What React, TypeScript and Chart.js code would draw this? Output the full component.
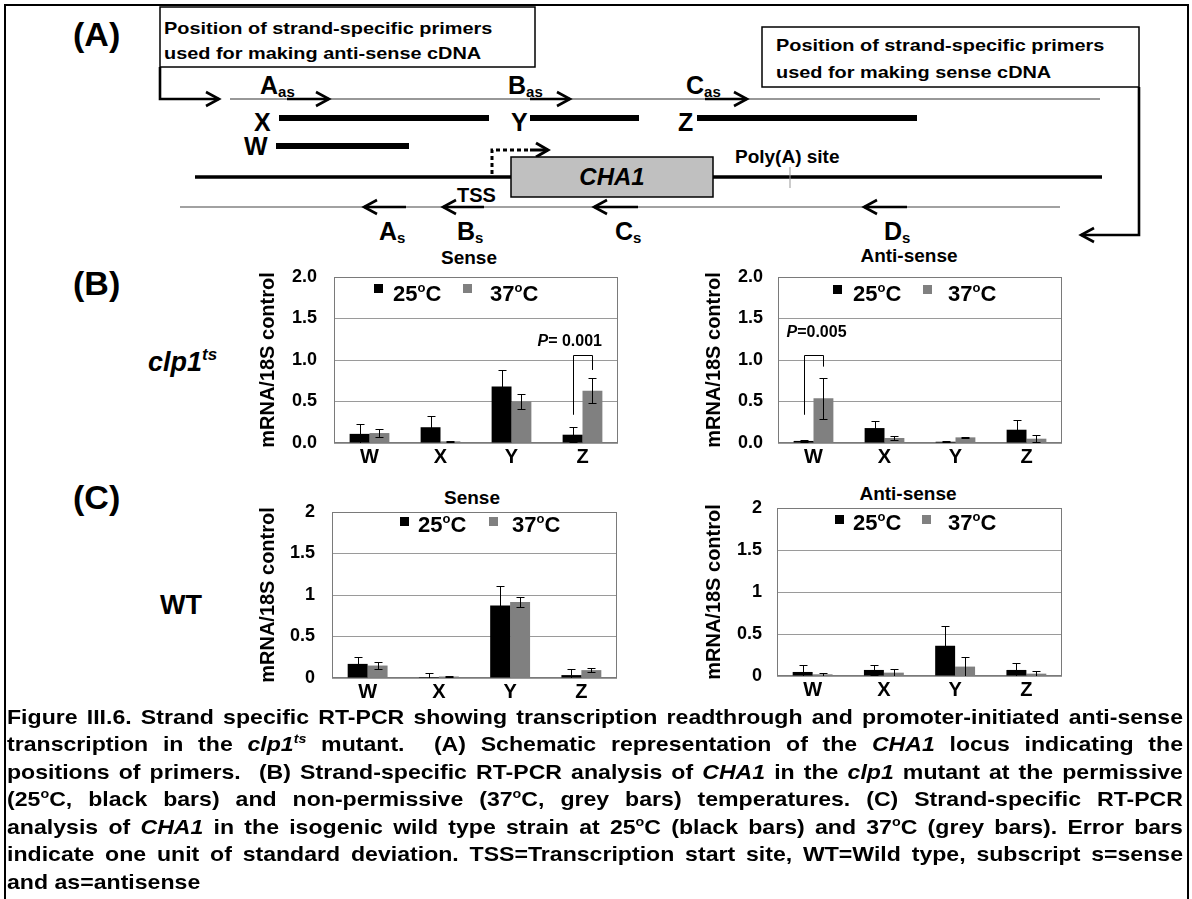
import React, { useEffect, useRef } from 'react';
import { Chart, registerables } from 'chart.js';
Chart.register(...registerables);

const FONT = '"Liberation Sans", Arial, Helvetica, sans-serif';

// ---------- data ----------
const categories = ['W', 'X', 'Y', 'Z'];
const yTicksB = ['0.0', '0.5', '1.0', '1.5', '2.0'];
const yTicksC = ['0', '0.5', '1', '1.5', '2'];

// (B) clp1ts, sense
const clpSense25 = [0.11, 0.19, 0.68, 0.1];
const clpSense25Sd = [0.12, 0.14, 0.2, 0.09];
const clpSense37 = [0.12, 0.02, 0.5, 0.63];
const clpSense37Sd = [0.05, 0.01, 0.095, 0.15];
// (B) clp1ts, anti-sense
const clpAnti25 = [0.025, 0.18, 0.015, 0.16];
const clpAnti25Sd = [0.01, 0.08, 0.005, 0.12];
const clpAnti37 = [0.54, 0.06, 0.068, 0.052];
const clpAnti37Sd = [0.245, 0.028, 0.008, 0.04];
// (C) WT, sense
const wtSense25 = [0.17, 0.012, 0.875, 0.035];
const wtSense25Sd = [0.08, 0.05, 0.23, 0.075];
const wtSense37 = [0.15, 0.018, 0.915, 0.095];
const wtSense37Sd = [0.04, 0.006, 0.055, 0.025];
// (C) WT, anti-sense
const wtAnti25 = [0.048, 0.072, 0.36, 0.072];
const wtAnti25Sd = [0.08, 0.056, 0.24, 0.08];
const wtAnti37 = [0.02, 0.04, 0.112, 0.028];
const wtAnti37Sd = [0.02, 0.04, 0.12, 0.03];

// significance brackets (value units)
const bracketSense = { cat: 3, leftLow: 0.34, top: 1.06, rightLow: 0.88, text: '= 0.001', labelY: 1.22, dx: -36 };
const bracketAnti = { cat: 0, leftLow: 0.34, top: 1.06, rightLow: 0.92, text: '=0.005', labelY: 1.33, dx: -18 };

// ---------- plugins ----------
const framePlugin = {
  id: 'frame',
  beforeDatasetsDraw(chart: any) {
    const { ctx, chartArea: a } = chart;
    ctx.save();
    ctx.strokeStyle = '#7a7a7a';
    ctx.lineWidth = 1;
    ctx.strokeRect(Math.round(a.left) + 0.5, Math.round(a.top) + 0.5, Math.round(a.right - a.left) - 1, Math.round(a.bottom - a.top) - 1);
    ctx.restore();
  },
};

const errorBarPlugin = {
  id: 'errbars',
  afterDatasetsDraw(chart: any) {
    const { ctx, chartArea: a } = chart;
    const ys = chart.scales.y;
    ctx.save();
    ctx.beginPath();
    ctx.rect(a.left, a.top - 2, a.right - a.left, a.bottom - a.top + 2);
    ctx.clip();
    ctx.strokeStyle = '#000';
    ctx.lineWidth = 1;
    chart.data.datasets.forEach((ds: any, di: number) => {
      const meta = chart.getDatasetMeta(di);
      meta.data.forEach((bar: any, i: number) => {
        const v = ds.data[i];
        const s = ds.sd[i];
        const x = Math.round(bar.x) + 0.5;
        const yt = Math.round(ys.getPixelForValue(v + s)) + 0.5;
        const yb = Math.round(ys.getPixelForValue(v - s)) + 0.5;
        ctx.beginPath();
        ctx.moveTo(x, yt);
        ctx.lineTo(x, yb);
        ctx.moveTo(x - 4, yt);
        ctx.lineTo(x + 4, yt);
        ctx.moveTo(x - 4, yb);
        ctx.lineTo(x + 4, yb);
        ctx.stroke();
      });
    });
    ctx.restore();
  },
};

function makeBracket(b: any) {
  return {
    id: 'bracket',
    afterDatasetsDraw(chart: any) {
      if (!b) return;
      const { ctx } = chart;
      const ys = chart.scales.y;
      const x0 = Math.round(chart.getDatasetMeta(0).data[b.cat].x) + 0.5;
      const x1 = Math.round(chart.getDatasetMeta(1).data[b.cat].x) + 0.5;
      const yT = Math.round(ys.getPixelForValue(b.top)) + 0.5;
      ctx.save();
      ctx.strokeStyle = '#000';
      ctx.lineWidth = 1;
      ctx.beginPath();
      ctx.moveTo(x0, ys.getPixelForValue(b.leftLow));
      ctx.lineTo(x0, yT);
      ctx.lineTo(x1, yT);
      ctx.lineTo(x1, ys.getPixelForValue(b.rightLow));
      ctx.stroke();
      const ty = ys.getPixelForValue(b.labelY);
      ctx.fillStyle = '#000';
      ctx.textBaseline = 'middle';
      ctx.font = `italic bold 16px ${FONT}`;
      ctx.fillText('P', x0 + b.dx, ty);
      const w = ctx.measureText('P').width;
      ctx.font = `bold 16px ${FONT}`;
      ctx.fillText(b.text, x0 + b.dx + w, ty);
      ctx.restore();
    },
  };
}

// ---------- chart panel ----------
type PanelCfg = {
  plotL: number; plotT: number; plotR: number; plotB: number;
  s25: number[]; s25sd: number[]; s37: number[]; s37sd: number[];
  ticks: string[]; titleX: number; tickPad: number; bracket?: any;
};

const tickSize = 18;

function BarPanel({ cfg }: { cfg: PanelCfg }) {
  const ref = useRef<HTMLCanvasElement>(null);
  const yAxisW = 104, xAxisH = 34, padRight = 12;
  // Chart.js reserves half a tick label + tick padding above the top tick
  const padTop = Math.ceil((tickSize * 1.2) / 2 + cfg.tickPad) + 1;
  const cl = cfg.plotL - yAxisW;
  const ct = cfg.plotT - padTop;
  const cw = cfg.plotR + padRight - cl;
  const ch = cfg.plotB + xAxisH - ct;
  const titleSize = 20;
  const titlePad = cfg.titleX - cl - (titleSize * 1.2) / 2;
  useEffect(() => {
    const chart = new Chart(ref.current as HTMLCanvasElement, {
      type: 'bar',
      data: {
        labels: categories,
        datasets: [
          { label: '25°C', data: cfg.s25, sd: cfg.s25sd, backgroundColor: '#000000', borderWidth: 0, categoryPercentage: 0.56, barPercentage: 1 } as any,
          { label: '37°C', data: cfg.s37, sd: cfg.s37sd, backgroundColor: '#808080', borderWidth: 0, categoryPercentage: 0.56, barPercentage: 1 } as any,
        ],
      },
      options: {
        responsive: false,
        animation: false,
        devicePixelRatio: 1,
        layout: { padding: { top: padTop, right: padRight, left: 0, bottom: 0 } },
        plugins: { legend: { display: false }, tooltip: { enabled: false }, title: { display: false } },
        scales: {
          x: {
            grid: { display: false, drawTicks: false },
            border: { display: false },
            ticks: { color: '#000', font: { family: FONT, size: 20, weight: 'bold' }, padding: 2, autoSkip: false, maxRotation: 0 },
            afterFit: (s: any) => { s.height = xAxisH; },
          },
          y: {
            min: 0,
            max: 2,
            grid: { color: '#9a9a9a', lineWidth: 1, drawTicks: false },
            border: { display: false },
            ticks: {
              stepSize: 0.5,
              color: '#000',
              font: { family: FONT, size: tickSize, weight: 'bold' },
              padding: cfg.tickPad,
              callback: (_v: any, i: number) => cfg.ticks[i],
            },
            title: {
              display: true,
              text: 'mRNA/18S control',
              color: '#000',
              font: { family: FONT, size: titleSize, weight: 'bold' },
              padding: { top: titlePad, bottom: 0 },
            },
            afterFit: (s: any) => { s.width = yAxisW; },
          },
        },
      } as any,
      plugins: [framePlugin, errorBarPlugin, makeBracket(cfg.bracket)],
    });
    return () => chart.destroy();
  }, []);
  return (
    <canvas
      ref={ref}
      width={cw}
      height={ch}
      style={{ position: 'absolute', left: cl, top: ct, width: cw, height: ch }}
    />
  );
}

// ---------- text helpers ----------
type TP = { x: number; y: number; size: number; children: any; italic?: boolean; center?: boolean; sx?: number; weight?: number };
const T = ({ x, y, size, children, italic, center, sx = 1, weight = 700 }: TP) => (
  <div
    style={{
      position: 'absolute',
      left: x,
      top: y - size * 0.49,
      fontSize: size,
      lineHeight: `${size}px`,
      fontWeight: weight,
      fontStyle: italic ? 'italic' : 'normal',
      whiteSpace: 'nowrap',
      transform: `${center ? 'translateX(-50%) ' : ''}scaleX(${sx})`,
      transformOrigin: center ? 'center center' : 'left center',
      color: '#000',
    }}
  >
    {children}
  </div>
);

const Sub = ({ children, size, dy }: { children: any; size: number; dy: number }) => (
  <span style={{ fontSize: size, position: 'relative', top: dy, lineHeight: 0 }}>{children}</span>
);

const Deg = ({ size, dy }: { size: number; dy: number }) => (
  <span style={{ fontSize: size, position: 'relative', top: dy, lineHeight: 0 }}>o</span>
);

const Sq = ({ x, y, color }: { x: number; y: number; color: string }) => (
  <div style={{ position: 'absolute', left: x, top: y, width: 9, height: 9, background: color }} />
);

function Legend({ sq1, t1, sq2, t2, y, ty }: { sq1: number; t1: number; sq2: number; t2: number; y: number; ty: number }) {
  return (
    <>
      <Sq x={sq1} y={y} color="#000" />
      <T x={t1} y={ty} size={22}>25<Deg size={13} dy={-9} />C</T>
      <Sq x={sq2} y={y} color="#808080" />
      <T x={t2} y={ty} size={22}>37<Deg size={13} dy={-9} />C</T>
    </>
  );
}

// ---------- schematic ----------
const chev = (x: number, y: number, dir: number, len = 13, half = 7) =>
  `M${x - dir * len},${y - half} L${x},${y} L${x - dir * len},${y + half}`;

function Schematic() {
  const thick = 2.6;
  return (
    <svg width={1192} height={899} style={{ position: 'absolute', left: 0, top: 0 }}>
      {/* boxes */}
      <rect x={160} y={7} width={375} height={60} fill="none" stroke="#000" strokeWidth={1.5} />
      <rect x={762} y={27} width={377} height={60} fill="none" stroke="#000" strokeWidth={1.5} />
      {/* left connector */}
      <path d="M160,67 V99 H219" fill="none" stroke="#000" strokeWidth={thick} />
      <path d={chev(219, 99, 1)} fill="none" stroke="#000" strokeWidth={thick} />
      {/* right connector */}
      <path d="M1139,87 V235 H1081" fill="none" stroke="#000" strokeWidth={thick} />
      <path d={chev(1081, 235, -1)} fill="none" stroke="#000" strokeWidth={thick} />
      {/* top strand */}
      <line x1={230} y1={99} x2={1100} y2={99} stroke="#333" strokeWidth={1.2} />
      {[[287, 329], [530, 570], [705, 747]].map(([a, b], i) => (
        <g key={i}>
          <line x1={a} y1={99} x2={b} y2={99} stroke="#000" strokeWidth={thick} />
          <path d={chev(b, 99, 1)} fill="none" stroke="#000" strokeWidth={thick} />
        </g>
      ))}
      {/* amplicons */}
      <line x1={279} y1={118} x2={489} y2={118} stroke="#000" strokeWidth={6} />
      <line x1={530} y1={118} x2={639} y2={118} stroke="#000" strokeWidth={6} />
      <line x1={697} y1={118} x2={917} y2={118} stroke="#000" strokeWidth={6} />
      <line x1={276} y1={146} x2={409} y2={146} stroke="#000" strokeWidth={6} />
      {/* TSS dotted arrow */}
      <path d="M492,174 V150 H530" fill="none" stroke="#000" strokeWidth={3} strokeDasharray="4,3" />
      <line x1={530} y1={150} x2={548} y2={150} stroke="#000" strokeWidth={3} />
      <path d={chev(548, 150, 1, 12, 7)} fill="none" stroke="#000" strokeWidth={3} />
      {/* genome line */}
      <line x1={195} y1={177} x2={1102} y2={177} stroke="#000" strokeWidth={3.5} />
      <rect x={511} y={157} width={202} height={40} fill="#c0c0c0" stroke="#000" strokeWidth={1.5} />
      <line x1={790} y1={167} x2={790} y2={188} stroke="#999" strokeWidth={1} />
      {/* bottom strand */}
      <line x1={180} y1={207} x2={1060} y2={207} stroke="#444" strokeWidth={1.2} />
      {[[406, 364], [484, 443], [638, 594], [907, 864]].map(([a, b], i) => (
        <g key={i}>
          <line x1={a} y1={207} x2={b} y2={207} stroke="#000" strokeWidth={thick} />
          <path d={chev(b, 207, -1)} fill="none" stroke="#000" strokeWidth={thick} />
        </g>
      ))}
    </svg>
  );
}

// ---------- caption ----------
const capSize = 21;
const capSx = 1.1;
const CapSup = ({ children }: { children: any }) => (
  <span style={{ fontSize: 13, position: 'relative', top: -8, lineHeight: 0 }}>{children}</span>
);
const captionLines: any[] = [
  <>Figure III.6. Strand specific RT-PCR showing transcription readthrough and promoter-initiated anti-sense</>,
  <>transcription in the <i>clp1<CapSup>ts</CapSup></i> mutant.&nbsp; (A) Schematic representation of the <i>CHA1</i> locus indicating the</>,
  <>positions of primers.&nbsp; (B) Strand-specific RT-PCR analysis of <i>CHA1</i> in the <i>clp1</i> mutant at the permissive</>,
  <>(25<CapSup>o</CapSup>C, black bars) and non-permissive (37<CapSup>o</CapSup>C, grey bars) temperatures. (C) Strand-specific RT-PCR</>,
  <>analysis of <i>CHA1</i> in the isogenic wild type strain at 25<CapSup>o</CapSup>C (black bars) and 37<CapSup>o</CapSup>C (grey bars). Error bars</>,
  <>indicate one unit of standard deviation. TSS=Transcription start site, WT=Wild type, subscript s=sense</>,
  <>and as=antisense</>,
];

function Caption() {
  return (
    <>
      {captionLines.map((ln, i) => {
        const last = i === captionLines.length - 1;
        const yc = 716 + i * 27.5;
        return (
          <div
            key={i}
            style={{
              position: 'absolute',
              left: 7,
              top: yc - capSize * 0.49,
              width: 1176 / capSx,
              fontSize: capSize,
              lineHeight: `${capSize}px`,
              fontWeight: 700,
              textAlign: last ? 'left' : 'justify',
              textAlignLast: last ? 'left' : 'justify',
              transform: `scaleX(${capSx})`,
              transformOrigin: 'left center',
              color: '#000',
            } as any}
          >
            {ln}
          </div>
        );
      })}
    </>
  );
}

// ---------- panels ----------
const panels: PanelCfg[] = [
  { plotL: 334, plotT: 277, plotR: 618, plotB: 443, s25: clpSense25, s25sd: clpSense25Sd, s37: clpSense37, s37sd: clpSense37Sd, ticks: yTicksB, titleX: 268, tickPad: 17, bracket: bracketSense },
  { plotL: 778, plotT: 277, plotR: 1062, plotB: 443, s25: clpAnti25, s25sd: clpAnti25Sd, s37: clpAnti37, s37sd: clpAnti37Sd, ticks: yTicksB, titleX: 714, tickPad: 15, bracket: bracketAnti },
  { plotL: 332, plotT: 512, plotR: 617, plotB: 678, s25: wtSense25, s25sd: wtSense25Sd, s37: wtSense37, s37sd: wtSense37Sd, ticks: yTicksC, titleX: 268, tickPad: 17 },
  { plotL: 777, plotT: 508, plotR: 1062, plotB: 676, s25: wtAnti25, s25sd: wtAnti25Sd, s37: wtAnti37, s37sd: wtAnti37Sd, ticks: yTicksC, titleX: 714, tickPad: 15 },
];

export default function App() {
  const ls = 25; // primer label size
  const ss = 15; // subscript size
  return (
    <div
      style={{
        position: 'absolute',
        left: 0,
        top: 0,
        width: 1192,
        height: 899,
        overflow: 'hidden',
        background: '#fff',
        fontFamily: FONT,
      }}
    >
      <div style={{ position: 'absolute', left: 4, top: 4, width: 1181, height: 1000, border: '2px solid #000' }} />
      <Schematic />
      {/* panel (A) text */}
      <T x={73} y={34} size={34}>(A)</T>
      <T x={164} y={28} size={17} sx={1.17}>Position of strand-specific primers</T>
      <T x={164} y={53} size={17} sx={1.17}>used for making anti-sense cDNA</T>
      <T x={776} y={45} size={17} sx={1.17}>Position of strand-specific primers</T>
      <T x={776} y={72} size={17} sx={1.17}>used for making sense cDNA</T>
      <T x={260} y={85} size={ls}>A<Sub size={ss} dy={3}>as</Sub></T>
      <T x={508} y={85} size={ls}>B<Sub size={ss} dy={3}>as</Sub></T>
      <T x={686} y={85} size={ls}>C<Sub size={ss} dy={3}>as</Sub></T>
      <T x={254} y={122} size={ls}>X</T>
      <T x={511} y={122} size={ls}>Y</T>
      <T x={678} y={122} size={ls}>Z</T>
      <T x={244} y={146} size={ls}>W</T>
      <T x={612} y={177} size={24} italic center>CHA1</T>
      <T x={735} y={156} size={19}>Poly(A) site</T>
      <T x={457} y={195} size={20}>TSS</T>
      <T x={379} y={231} size={ls}>A<Sub size={ss} dy={3}>s</Sub></T>
      <T x={457} y={231} size={ls}>B<Sub size={ss} dy={3}>s</Sub></T>
      <T x={615} y={231} size={ls}>C<Sub size={ss} dy={3}>s</Sub></T>
      <T x={884} y={231} size={ls}>D<Sub size={ss} dy={3}>s</Sub></T>

      {/* row labels */}
      <T x={73} y={283} size={34}>(B)</T>
      <T x={73} y={497} size={34}>(C)</T>
      <T x={148} y={362} size={27} italic>clp1<Sub size={17} dy={-11}>ts</Sub></T>
      <T x={160} y={605} size={27}>WT</T>

      {/* chart titles */}
      <T x={469} y={257} size={19} center>Sense</T>
      <T x={909} y={255} size={19} center>Anti-sense</T>
      <T x={472} y={497} size={19} center>Sense</T>
      <T x={908} y={493} size={19} center>Anti-sense</T>

      {panels.map((p, i) => (
        <BarPanel key={i} cfg={p} />
      ))}

      {/* legends */}
      <Legend sq1={374} t1={393} sq2={463} t2={490} y={284} ty={293.5} />
      <Legend sq1={833} t1={853} sq2={923} t2={948} y={285} ty={294} />
      <Legend sq1={400} t1={418} sq2={489} t2={512} y={517} ty={525} />
      <Legend sq1={835} t1={853} sq2={922} t2={948} y={515} ty={523} />

      <Caption />
    </div>
  );
}
